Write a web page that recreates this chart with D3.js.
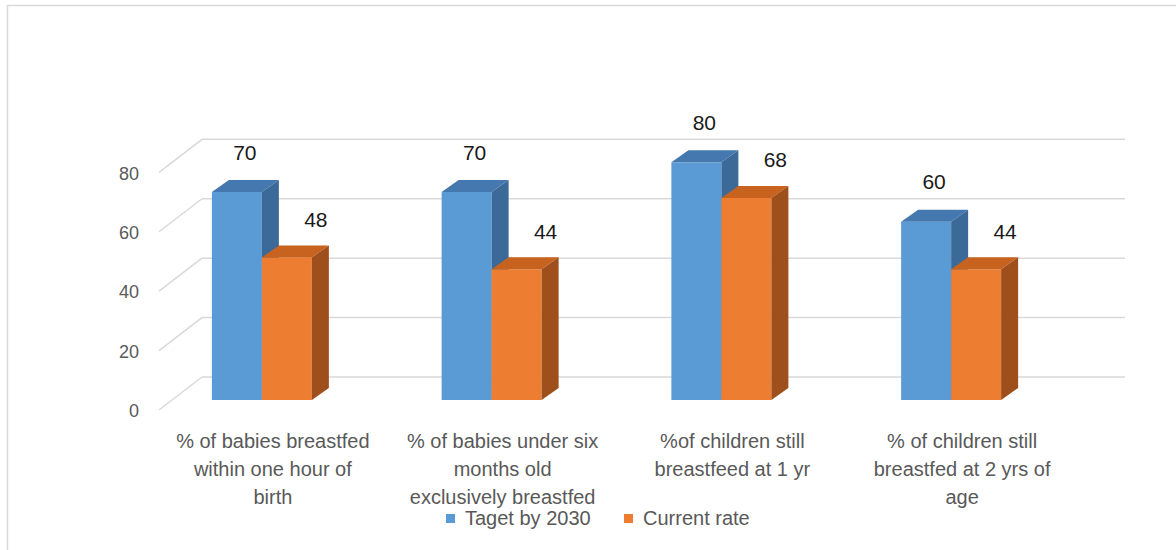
<!DOCTYPE html>
<html>
<head>
<meta charset="utf-8">
<script src="https://cdn.jsdelivr.net/npm/d3@7/dist/d3.min.js"></script>
<style>
  html, body { margin: 0; padding: 0; background: #fff; }
  svg { display: block; font-family: "Liberation Sans", Arial, sans-serif; }
</style>
</head>
<body>
<div id="chart"></div>
<script>
// data
const categories = [
  '% of babies breastfed within one hour of birth',
  '% of babies under six months old exclusively breastfed',
  '%of children still breastfeed at 1 yr',
  '% of children still breastfed at 2 yrs of age'
]
const categoryLines = [
  ['% of babies breastfed', 'within one hour of', 'birth'],
  ['% of babies under six', 'months old', 'exclusively breastfed'],
  ['%of children still', 'breastfeed at 1 yr'],
  ['% of children still', 'breastfed at 2 yrs of', 'age']
]
const seriesNames = ['Taget by 2030', 'Current rate']
const targetValues = [70, 70, 80, 60]
const currentValues = [48, 44, 68, 44]
const yTicks = [0, 20, 40, 60, 80]

const width = 1176
const height = 550

const colors = {
  'Taget by 2030': { front: '#5b9bd5', top: '#4478ae', side: '#3b6a99' },
  'Current rate': { front: '#ed7d31', top: '#c8621f', side: '#9f4f1c' }
}

const svg = d3.select('#chart').append('svg')
  .attr('width', width).attr('height', height)

svg.append('rect').attr('width', width).attr('height', height).attr('fill', '#fff')
// chart border
svg.append('rect').attr('x', 7.5).attr('y', 5.5).attr('width', 1300).attr('height', 700)
  .attr('fill', 'none').attr('stroke', '#d9d9d9').attr('stroke-width', 1.5)

// scales (front face of the bars)
const x = d3.scaleBand().domain(categories).range([147, 1066])
const xSub = d3.scaleBand().domain(seriesNames).range([-50, 50])
const y = d3.scaleLinear().domain([0, 80]).range([400, 162.3])

// 3d offsets
const wall = { dx: 30, dy: -23 }      // bar front -> back wall
const front = { dx: -13, dy: 10 }     // bar front -> front edge of floor
const depth = { dx: 17, dy: -12 }     // bar thickness
const wallRight = 1125

// gridlines on back wall + side wall
const grid = svg.append('g').attr('stroke', '#d9d9d9').attr('stroke-width', 1.5).attr('fill', 'none')
yTicks.forEach(v => {
  const yb = y(v) + wall.dy
  grid.append('line').attr('x1', 159).attr('y1', y(v) + front.dy).attr('x2', 202).attr('y2', yb)
  grid.append('line').attr('x1', 202).attr('y1', yb).attr('x2', wallRight).attr('y2', yb)
})

// y axis labels
const yAxis = svg.append('g')
  .attr('transform', `translate(142,${front.dy + 1})`)
  .call(d3.axisLeft(y).tickValues(yTicks).tickSize(0).tickPadding(3))
yAxis.select('.domain').remove()
yAxis.selectAll('text')
  .attr('fill', '#595959').style('font-size', '18px')
  .style('font-family', '"Liberation Sans", Arial, sans-serif')

// bars
const bars = svg.append('g')
const labelOffset = {
  'Taget by 2030': { dx: 8, dy: -40 },
  'Current rate': { dx: 29, dy: -38 }
}
const labels = []
categories.forEach((cat, i) => {
  const vals = [targetValues[i], currentValues[i]]
  seriesNames.forEach((s, j) => {
    const v = vals[j]
    const x0 = x(cat) + x.bandwidth() / 2 + xSub(s)
    const x1 = x0 + xSub.bandwidth()
    const yt = y(v)
    const y0 = y(0)
    const c = colors[s]
    const pts = p => p.map(d => d.join(',')).join(' ')
    bars.append('rect').attr('x', x0).attr('y', yt)
      .attr('width', x1 - x0).attr('height', y0 - yt).attr('fill', c.front)
    bars.append('polygon').attr('fill', c.top)
      .attr('points', pts([[x0, yt], [x0 + depth.dx, yt + depth.dy], [x1 + depth.dx, yt + depth.dy], [x1, yt]]))
    bars.append('polygon').attr('fill', c.side)
      .attr('points', pts([[x1, yt], [x1 + depth.dx, yt + depth.dy], [x1 + depth.dx, y0 + depth.dy], [x1, y0]]))
    labels.push({ x: (x0 + x1) / 2 + labelOffset[s].dx, y: yt + labelOffset[s].dy, v })
  })
})

// data labels
svg.append('g').selectAll('text').data(labels).join('text')
  .attr('x', d => d.x).attr('y', d => d.y)
  .attr('text-anchor', 'middle').attr('dominant-baseline', 'central')
  .attr('fill', '#1a1a1a').style('font-size', '21px')
  .text(d => d.v)

// category labels
const catG = svg.append('g').attr('fill', '#595959').style('font-size', '20px')
categories.forEach((cat, i) => {
  const t = catG.append('text')
    .attr('x', x(cat) + x.bandwidth() / 2 + 11)
    .attr('text-anchor', 'middle')
  categoryLines[i].forEach((line, k) => {
    t.append('tspan').attr('x', x(cat) + x.bandwidth() / 2 + 11)
      .attr('y', 448 + k * 28).text(line)
  })
})

// legend
const legend = svg.append('g').attr('transform', 'translate(446, 518)')
const legendX = [0, 178]
seriesNames.forEach((s, i) => {
  const lg = legend.append('g').attr('transform', `translate(${legendX[i]},0)`)
  lg.append('rect').attr('x', 0).attr('y', -4).attr('width', 9).attr('height', 9).attr('fill', colors[s].front)
  lg.append('text').attr('x', 19).attr('y', 0).attr('dominant-baseline', 'central')
    .attr('fill', '#595959').style('font-size', '20px').text(s)
})
</script>
</body>
</html>
